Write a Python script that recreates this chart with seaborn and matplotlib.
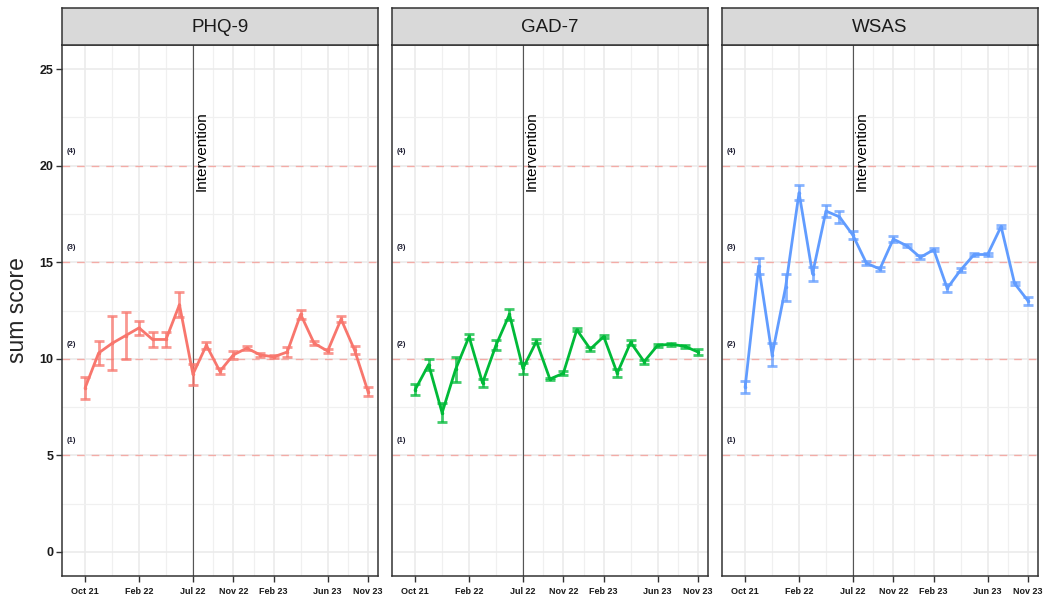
import matplotlib
matplotlib.use("Agg")
import matplotlib.pyplot as plt
import seaborn as sns
import numpy as np
import pandas as pd

sns.set_theme(style="white")
plt.rcParams["font.family"] = ["Liberation Sans", "DejaVu Sans"]

# Measurement occasions (index along the study timeline)
occasion = list(range(22))
tick_pos = [0, 4, 8, 11, 14, 18, 21]
tick_labels = ["Oct 21", "Feb 22", "Jul 22", "Nov 22", "Feb 23", "Jun 23", "Nov 23"]
minor_pos = [2, 6, 9.5, 12.5, 16, 19.5]
intervention_at = 8

phq_mean = [8.5, 10.3, 10.8, 11.2, 11.6, 11.0, 11.0, 12.8, 9.2, 10.7, 9.35, 10.2,
            10.55, 10.2, 10.1, 10.35, 12.3, 10.8, 10.4, 12.05, 10.45, 8.3]
phq_se = [0.57, 0.6, 1.4, 1.2, 0.35, 0.4, 0.37, 0.65, 0.55, 0.18, 0.15, 0.2,
          0.1, 0.12, 0.08, 0.25, 0.25, 0.1, 0.12, 0.15, 0.2, 0.25]

gad_mean = [8.4, 9.7, 7.2, 9.45, 11.15, 8.75, 10.7, 12.3, 9.5, 10.9, 8.95, 9.25,
            11.5, 10.5, 11.15, 9.25, 10.85, 9.85, 10.7, 10.75, 10.65, 10.35]
gad_se = [0.28, 0.3, 0.5, 0.65, 0.15, 0.2, 0.25, 0.3, 0.3, 0.1, 0.05, 0.1,
          0.08, 0.1, 0.1, 0.2, 0.12, 0.1, 0.07, 0.07, 0.08, 0.15]

wsas_mean = [8.55, 14.8, 10.2, 13.7, 18.6, 14.4, 17.65, 17.35, 16.4, 14.95, 14.65, 16.2,
             15.85, 15.25, 15.65, 13.65, 14.6, 15.4, 15.4, 16.85, 13.9, 13.0]
wsas_se = [0.3, 0.4, 0.6, 0.7, 0.4, 0.35, 0.3, 0.3, 0.2, 0.1, 0.1, 0.15,
           0.08, 0.1, 0.08, 0.2, 0.1, 0.06, 0.06, 0.08, 0.1, 0.2]

scales = ["PHQ-9", "GAD-7", "WSAS"]
colors = ["#F8766D", "#00BA38", "#619CFF"]
severity_levels = [5, 10, 15, 20]
severity_labels = ["(1)", "(2)", "(3)", "(4)"]
y_ticks = [0, 5, 10, 15, 20, 25]

series = {
    "PHQ-9": (phq_mean, phq_se),
    "GAD-7": (gad_mean, gad_se),
    "WSAS": (wsas_mean, wsas_se),
}

W, H = 1048, 600
fig = plt.figure(figsize=(W / 100, H / 100), dpi=100)

panel_left = [62, 392, 722]
panel_w = 316
top, bottom, strip_top = 45, 576, 8
edge = "#333333"

for k, name in enumerate(scales):
    x0 = panel_left[k]
    ax = fig.add_axes([x0 / W, (H - bottom) / H, panel_w / W, (bottom - top) / H])
    strip = fig.add_axes([x0 / W, (H - top) / H, panel_w / W, (top - strip_top) / H])

    mean, se = series[name]
    df = pd.DataFrame({"occasion": occasion, "score": mean, "se": se})

    ax.set_xlim(-1.72, 21.74)
    ax.set_ylim(-1.25, 26.25)

    # grid
    ax.set_xticks(tick_pos)
    ax.set_xticks(minor_pos, minor=True)
    ax.set_yticks(y_ticks)
    ax.set_yticks([2.5, 7.5, 12.5, 17.5, 22.5], minor=True)
    ax.grid(True, which="major", color="#EBEBEB", lw=1.2)
    ax.grid(True, which="minor", color="#F0F0F0", lw=0.9)
    ax.set_axisbelow(True)

    for lvl, lab in zip(severity_levels, severity_labels):
        ax.axhline(lvl, color="#F8766D", alpha=0.55, lw=1.0, ls=(0, (5.5, 5)), zorder=1)
        ax.text(-1.35, lvl + 0.75, lab, fontsize=5.5, ha="left", va="center",
                color="#1a1a2e", fontweight="bold")

    ax.axvline(intervention_at, color="#555555", lw=0.8, zorder=1.5)
    ax.text(intervention_at + 0.15, 20.75, "Intervention", rotation=90, fontsize=11,
            ha="left", va="center", color="black")

    ax.errorbar(df["occasion"], df["score"], yerr=df["se"], fmt="none",
                ecolor=colors[k], alpha=0.75, elinewidth=2.0, capsize=3.8,
                capthick=2.0, zorder=2)
    sns.lineplot(data=df, x="occasion", y="score", ax=ax, color=colors[k],
                 linewidth=2.0, marker="o", markersize=2.5, markeredgewidth=0,
                 zorder=3)

    ax.set_xlabel("")
    ax.set_ylabel("")
    ax.set_xticklabels(tick_labels, fontsize=6.5, fontweight="bold", color="#1a1a1a")
    ax.tick_params(axis="x", which="major", length=4, width=1, color=edge, pad=4,
                   bottom=True)
    ax.tick_params(axis="both", which="minor", length=0)
    if k == 0:
        ax.set_yticklabels([str(v) for v in y_ticks], fontsize=9, fontweight="bold",
                           color="#1a1a1a")
        ax.tick_params(axis="y", which="major", length=4, width=1, color=edge, pad=2,
                       left=True)
        ax.set_ylabel("sum score", fontsize=16.5, labelpad=8)
    else:
        ax.tick_params(axis="y", which="major", length=0, labelleft=False)

    for sp in ax.spines.values():
        sp.set_color(edge)
        sp.set_linewidth(1.1)
        sp.set_visible(True)

    strip.set_facecolor("#D9D9D9")
    strip.set_xticks([])
    strip.set_yticks([])
    for sp in strip.spines.values():
        sp.set_color(edge)
        sp.set_linewidth(1.1)
        sp.set_visible(True)
    strip.text(0.5, 0.48, name, transform=strip.transAxes, ha="center", va="center",
               fontsize=13.5, color="#1a1a1a")

fig.savefig("out.png", dpi=100, facecolor="white")
